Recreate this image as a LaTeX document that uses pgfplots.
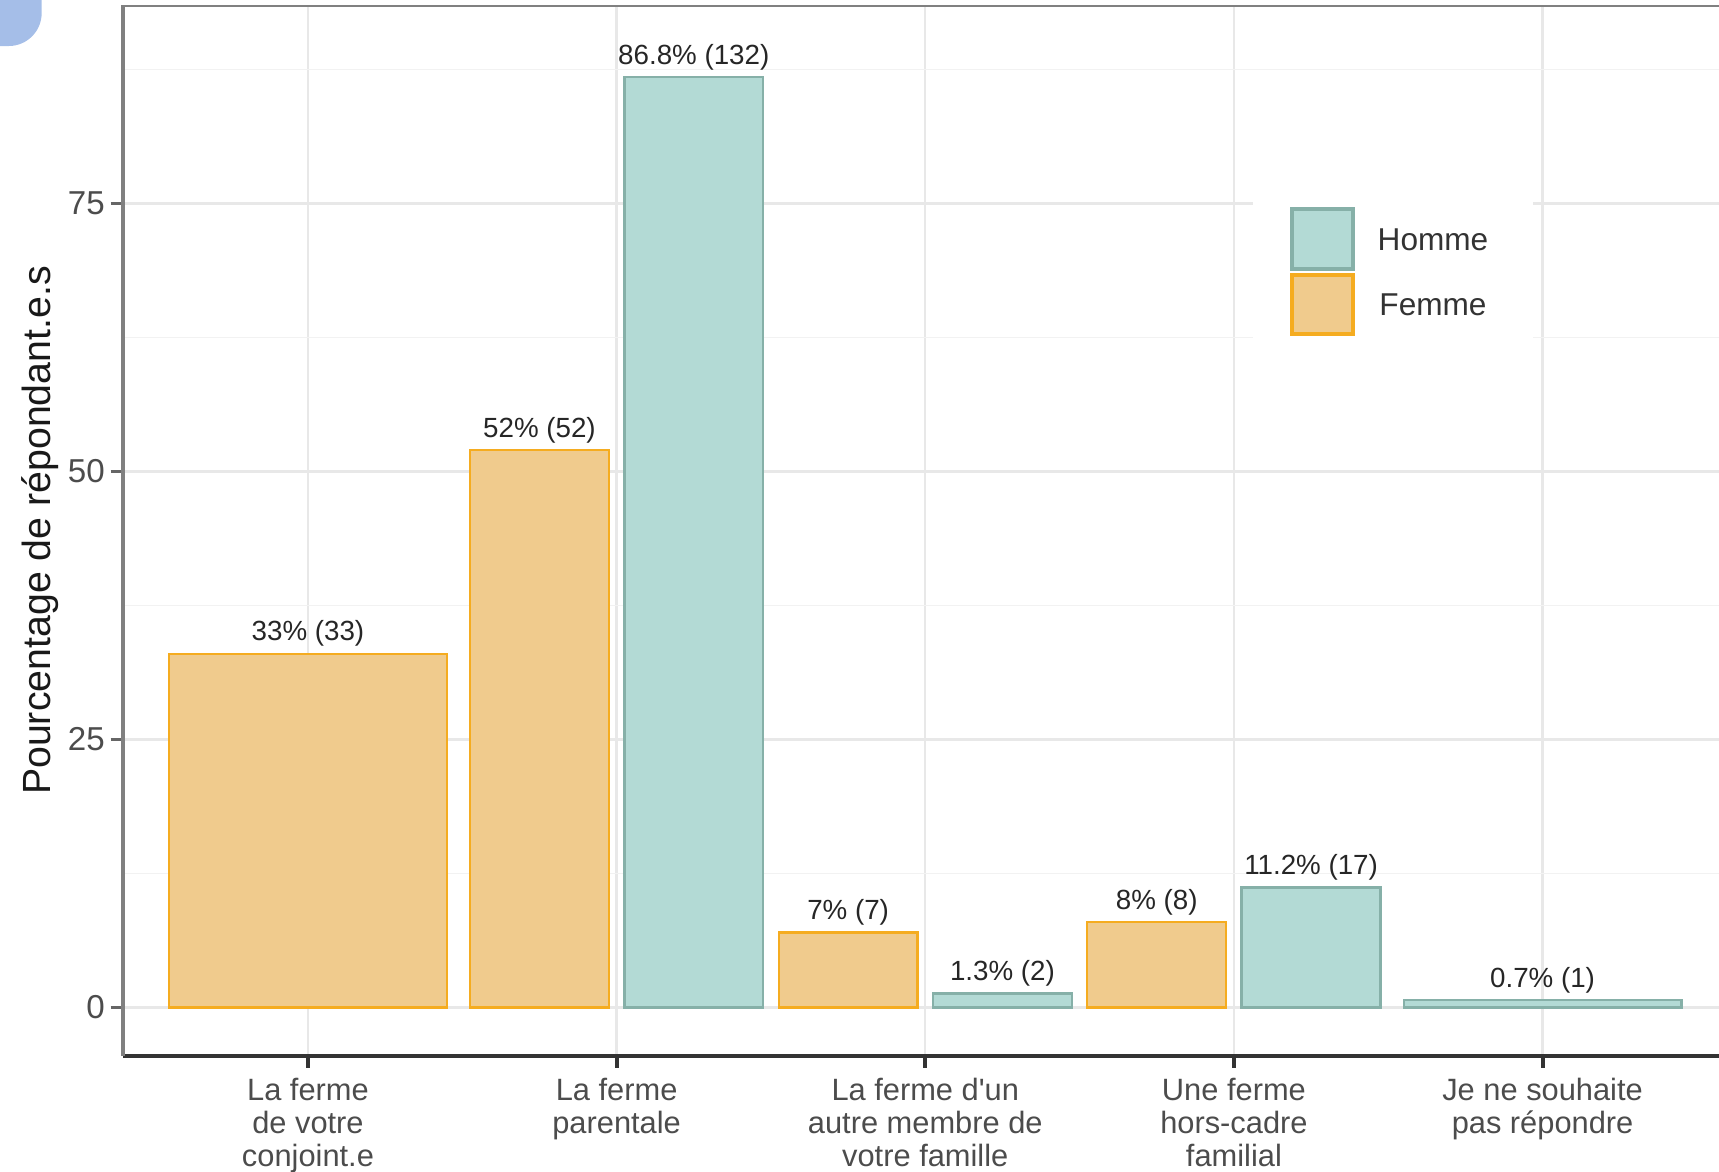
\documentclass[border=0pt]{standalone}
\usepackage{pgfplots}
\pgfplotsset{compat=1.18}
\usepackage{fontspec}
\setmainfont{Liberation Sans}

\definecolor{femfill}{RGB}{240,203,141}
\definecolor{femline}{RGB}{245,172,32}
\definecolor{homfill}{RGB}{179,218,213}
\definecolor{homline}{RGB}{134,176,168}
\definecolor{blob}{RGB}{165,190,232}

\pgfplotsset{
  keybox/.style={legend image code/.code={%
    \draw[##1, line width=1pt] (0cm,-0.24cm) rectangle (0.55cm,0.30cm);}},
  barlab/.style={nodes near coords, point meta=explicit symbolic,
    every node near coord/.append style={font=\fontsize{7.2}{8}\selectfont,
      text=black!85, anchor=south, inner sep=1.5pt}},
}

\begin{document}
\begin{tikzpicture}
\path[use as bounding box] (-1.12,-1.06) rectangle (14.56,9.63);
\fill[blob, rounded corners=0.3cm] (-1.8,10.2) rectangle (-0.74,9.21);
\begin{axis}[
  at={(0,0)}, anchor=south west, scale only axis,
  width=14.64cm, height=9.58cm,
  xmin=0.4, xmax=5.6, ymin=-4.5, ymax=93.46,
  axis x line*=bottom, axis y line*=left,
  axis line style={-},
  x axis line style={black!80, line width=1.1pt},
  y axis line style={black!50, line width=0.9pt},
  xtick={1,2,3,4,5},
  xticklabels={{La ferme\\de votre\\conjoint.e},{La ferme\\parentale},
    {La ferme d\textquotesingle un\\autre membre de\\votre famille},
    {Une ferme\\hors-cadre\\familial},{Je ne souhaite\\pas répondre}},
  xticklabel style={align=center, font=\fontsize{8}{8.6}\selectfont,
    text=black!70, yshift=0.03cm},
  ytick={0,25,50,75},
  minor ytick={12.5,37.5,62.5,87.5},
  yticklabel style={font=\fontsize{8.6}{10}\selectfont, text=black!70,
    xshift=0.07cm},
  /pgf/number format/assume math mode=true,
  grid=both,
  major grid style={black!9, line width=0.6pt},
  minor grid style={black!5, line width=0.4pt},
  tick align=outside,
  major tick length=0.11cm,
  minor tick length=0pt,
  x tick style={black!80, line width=1pt},
  y tick style={black!60, line width=0.8pt},
  ylabel={Pourcentage de répondant.e.s},
  ylabel style={at={(rel axis cs:0,0.5)}, anchor=center, yshift=0.75cm,
    font=\fontsize{10.2}{12}\selectfont, text=black!90},
  legend style={at={(axis cs:4.06,75.3)}, anchor=north west, draw=none,
    fill=white, inner xsep=0.34cm, inner ysep=0.06cm, row sep=0.02cm,
    column sep=0.14cm,
    font=\fontsize{8.2}{9}\selectfont, text=black!80},
]
\addplot[ybar, bar width=0.45, bar shift=0pt, fill=homfill, draw=homline,
  line width=0.6pt, keybox, barlab]
  coordinates {(2.25,86.8)[86.8\% (132)] (3.25,1.3)[1.3\% (2)] (4.25,11.2)[11.2\% (17)]};
\addlegendentry{Homme}
\addplot[ybar, bar width=0.45, bar shift=0pt, fill=femfill, draw=femline,
  line width=0.6pt, keybox, barlab]
  coordinates {(1.75,52)[52\% (52)] (2.75,7)[7\% (7)] (3.75,8)[8\% (8)]};
\addlegendentry{Femme}
\addplot[ybar, bar width=0.9, bar shift=0pt, fill=femfill, draw=femline,
  line width=0.6pt, barlab, forget plot]
  coordinates {(1,33)[33\% (33)]};
\addplot[ybar, bar width=0.9, bar shift=0pt, fill=homfill, draw=homline,
  line width=0.6pt, barlab, forget plot]
  coordinates {(5,0.7)[0.7\% (1)]};
\draw[black!50, line width=0.9pt] (rel axis cs:0,1) -- (rel axis cs:1,1);
\end{axis}
\end{tikzpicture}
\end{document}
